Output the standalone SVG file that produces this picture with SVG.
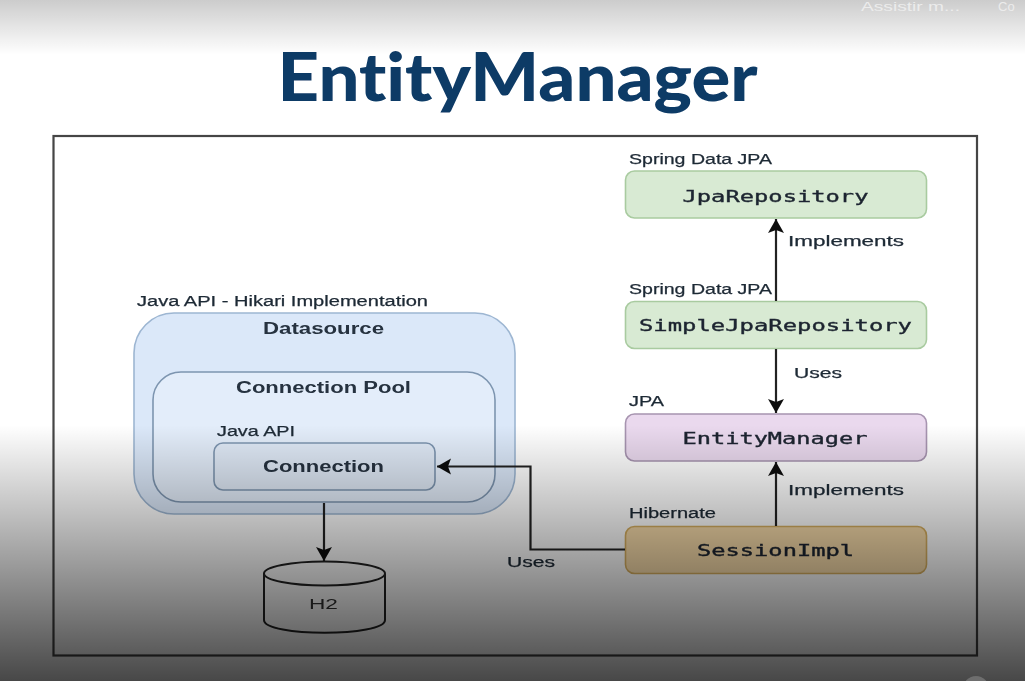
<svg xmlns="http://www.w3.org/2000/svg" width="1025" height="681" viewBox="0 0 1025 681">
<style>
text{font-variant-ligatures:none}
.sans{font-family:"Liberation Sans",Arial,sans-serif;fill:#1f2a36}
.lbl{font-size:14px;font-weight:500;stroke:#1f2a36;stroke-width:.25}
.big{font-size:16px;font-weight:bold;text-anchor:middle;fill:#26323f}
.mono{font-family:"DejaVu Sans Mono","Liberation Mono",monospace;font-size:15.500px;text-anchor:middle;fill:#1d2530;stroke:#1d2530;stroke-width:.35}
.box{stroke-width:1.6}
.conn{fill:none;stroke:#222;stroke-width:2.200}
</style>
<defs>
<linearGradient id="shadeB" x1="0" y1="0" x2="0" y2="1">
<stop offset="0" stop-color="#000" stop-opacity="0"/>
<stop offset="1" stop-color="#000" stop-opacity=".72"/>
</linearGradient>
<linearGradient id="shadeT" x1="0" y1="0" x2="0" y2="1">
<stop offset="0" stop-color="#000" stop-opacity=".2"/>
<stop offset="1" stop-color="#000" stop-opacity="0"/>
</linearGradient>
<marker id="arrow" markerUnits="userSpaceOnUse" markerWidth="16" markerHeight="20" refX="14" refY="10" orient="auto">
<path d="M0 2 L14 10 L0 18 L3 10 Z" fill="#111"/>
</marker>
<filter id="soft" filterUnits="userSpaceOnUse" x="0" y="0" width="1025" height="681"><feGaussianBlur stdDeviation=".7"/></filter>
</defs>
<rect width="1025" height="681" fill="#fff"/>
<g filter="url(#soft)">
<text id="title" x="517.500" y="101" text-anchor="middle" font-family="Lato,'Open Sans',sans-serif" font-weight="900" font-size="67" fill="#0f3a66" textLength="480" lengthAdjust="spacingAndGlyphs">EntityManager</text>
<rect id="frame" x="53.500" y="136" width="923.500" height="519.500" fill="#fff" stroke="#444" stroke-width="2.200"/>

<g id="datasource">
<text class="sans lbl" x="137" y="306" textLength="291" lengthAdjust="spacingAndGlyphs">Java API - Hikari Implementation</text>
<rect class="box" x="134" y="313" width="381" height="201" rx="40" fill="#dbe8f9" stroke="#9db6d2"/>
<text class="sans big" x="323.500" y="334" textLength="121" lengthAdjust="spacingAndGlyphs">Datasource</text>
</g>
<g id="connection-pool">
<rect class="box" x="153" y="372" width="342" height="130" rx="28" fill="#e3edfa" stroke="#7d95b0"/>
<text class="sans big" x="323.500" y="393" textLength="175" lengthAdjust="spacingAndGlyphs">Connection Pool</text>
</g>
<g id="connection">
<text class="sans lbl" x="217" y="436" textLength="78" lengthAdjust="spacingAndGlyphs">Java API</text>
<rect class="box" x="214" y="443" width="221" height="47" rx="9" fill="#dfe9f6" stroke="#7d95b0"/>
<text class="sans big" x="323.500" y="472" textLength="121" lengthAdjust="spacingAndGlyphs">Connection</text>
</g>
<g id="h2">
<path d="M264 574 V620 C264 637 385 637 385 620 V574" fill="#fff" stroke="#222" stroke-width="2"/>
<ellipse cx="324.500" cy="573.500" rx="60.500" ry="12" fill="#fff" stroke="#222" stroke-width="2"/>
<text class="sans" x="323.500" y="609" font-size="15" text-anchor="middle" style="fill:#333" textLength="29" lengthAdjust="spacingAndGlyphs">H2</text>
</g>
<g id="jparepository">
<text class="sans lbl" x="629" y="164" textLength="143" lengthAdjust="spacingAndGlyphs">Spring Data JPA</text>
<rect class="box" x="625.500" y="171" width="301" height="47" rx="9" fill="#d8ead3" stroke="#a9cba0"/>
<text class="mono" x="775.500" y="202" textLength="186" lengthAdjust="spacingAndGlyphs">JpaRepository</text>
</g>
<g id="simplejparepository">
<text class="sans lbl" x="629" y="294" textLength="143" lengthAdjust="spacingAndGlyphs">Spring Data JPA</text>
<rect class="box" x="625.500" y="301.500" width="301" height="47" rx="9" fill="#d8ead3" stroke="#a9cba0"/>
<text class="mono" x="775.500" y="331" textLength="273" lengthAdjust="spacingAndGlyphs">SimpleJpaRepository</text>
</g>
<g id="entitymanager">
<text class="sans lbl" x="629" y="406" textLength="35" lengthAdjust="spacingAndGlyphs">JPA</text>
<rect class="box" x="625.500" y="414" width="301" height="47" rx="9" fill="#ead9ee" stroke="#a794b0"/>
<text class="mono" x="775" y="444" textLength="185" lengthAdjust="spacingAndGlyphs">EntityManager</text>
</g>
<g id="sessionimpl">
<text class="sans lbl" x="629" y="518" textLength="87" lengthAdjust="spacingAndGlyphs">Hibernate</text>
<rect class="box" x="625.500" y="526.500" width="301" height="47" rx="9" fill="#f8dcaa" stroke="#d8b060"/>
<text class="mono" x="775.500" y="556" textLength="157" lengthAdjust="spacingAndGlyphs">SessionImpl</text>
</g>
<g id="connectors">
<path class="conn" d="M776 301 V219" marker-end="url(#arrow)"/>
<path class="conn" d="M776 349 V413" marker-end="url(#arrow)"/>
<path class="conn" d="M776 526 V462" marker-end="url(#arrow)"/>
<path class="conn" d="M625 549.500 H530.500 V466.500 H437" marker-end="url(#arrow)"/>
<path class="conn" d="M324 503 V561" marker-end="url(#arrow)"/>
<text class="sans lbl" x="788" y="246" textLength="116" lengthAdjust="spacingAndGlyphs">Implements</text>
<text class="sans lbl" x="794" y="378" textLength="48" lengthAdjust="spacingAndGlyphs">Uses</text>
<text class="sans lbl" x="788" y="495" textLength="116" lengthAdjust="spacingAndGlyphs">Implements</text>
<text class="sans lbl" x="507" y="567" textLength="48" lengthAdjust="spacingAndGlyphs">Uses</text>
</g>
</g>
<rect id="shade-bottom" y="425" width="1025" height="256" fill="url(#shadeB)"/>
<rect id="shade-top" width="1025" height="55" fill="url(#shadeT)"/>
<circle cx="976" cy="689" r="13" fill="#6e6e6e"/>
<text class="sans" x="861" y="11" font-size="13" style="fill:#ececec" textLength="99" lengthAdjust="spacingAndGlyphs">Assistir m...</text>
<text class="sans" x="998" y="11" font-size="13" style="fill:#ececec">Co</text>
</svg>
